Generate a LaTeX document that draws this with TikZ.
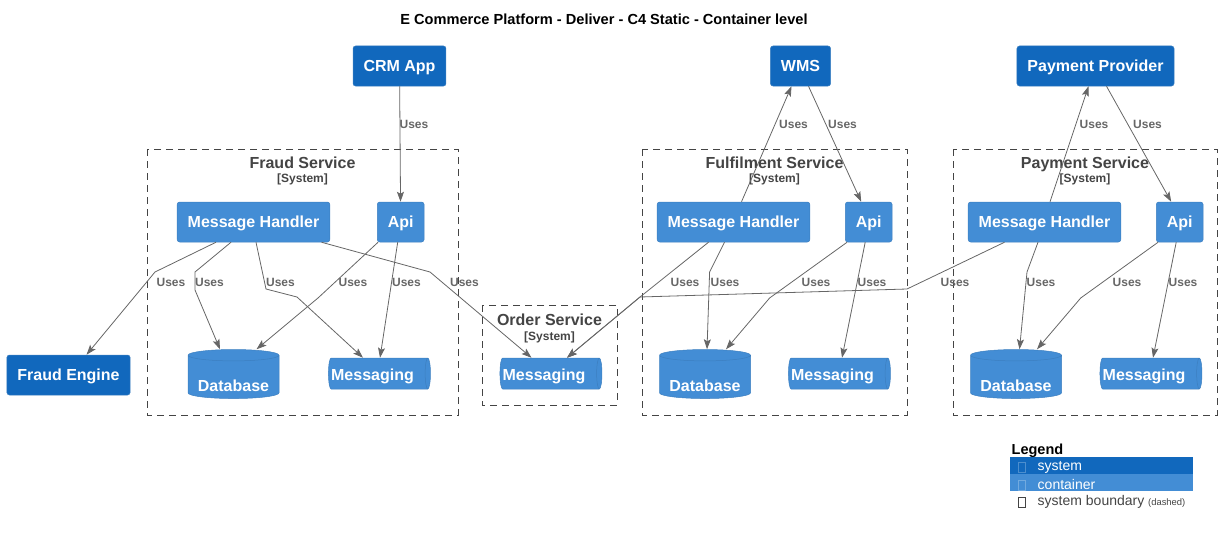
\documentclass[tikz,border=0pt]{standalone}
\usepackage{fontspec}
\setmainfont{Liberation Sans}
\usetikzlibrary{shapes.geometric,arrows.meta,positioning}
\definecolor{sysblue}{HTML}{1168BD}
\definecolor{ctrblue}{HTML}{438DD5}
\definecolor{nodeedge}{HTML}{3C7FC0}
\definecolor{edgegray}{HTML}{666666}
\definecolor{bndgray}{HTML}{444444}
\tikzset{
  sys/.style={rectangle, rounded corners=2.5pt, fill=sysblue, draw=nodeedge, line width=0.5pt,
    text=white, font=\fontsize{16}{19}\selectfont\bfseries, minimum height=40pt,
    inner xsep=10.5pt, text height=11.5pt, text depth=0pt},
  ctr/.style={sys, fill=ctrblue},
  db/.style={cylinder, shape border rotate=90, aspect=0.16, fill=ctrblue, draw=nodeedge,
    line width=0.5pt, text=white, font=\fontsize{16}{19}\selectfont\bfseries,
    minimum width=91pt, minimum height=49pt, inner sep=0pt, text height=29pt, text depth=0pt},
  queue/.style={db, shape border rotate=0, aspect=0.38, minimum width=31pt, minimum height=102pt,
    text height=14pt},
  bnd/.style={draw=bndgray, line width=0.8pt, dash pattern=on 7pt off 5pt},
  bndtitle/.style={text=bndgray, font=\fontsize{16}{19}\selectfont\bfseries, anchor=base, inner sep=0pt},
  bndtag/.style={text=bndgray, font=\fontsize{12}{14}\selectfont\bfseries, anchor=base, inner sep=0pt},
  uses/.style={draw=edgegray, line width=0.8pt, -{Stealth[length=10pt,width=7pt,inset=2pt]}},
  lbl/.style={text=edgegray, font=\fontsize{12}{14}\selectfont\bfseries, anchor=base, inner sep=0pt},
  legtext/.style={text=white, font=\fontsize{14}{17}\selectfont, anchor=base west, inner sep=0pt},
}
\begin{document}
\begin{tikzpicture}[x=1pt,y=-1pt]
\useasboundingbox (0,0) rectangle (1222,535);
\node[anchor=base, font=\fontsize{14.6}{17}\selectfont\bfseries] (title) at (604,25)
  {E Commerce Platform - Deliver - C4 Static - Container level};

% systems
\node[sys] (crm) at (399.5,66) {CRM App};
\node[sys] (wms) at (800.5,66) {WMS};
\node[sys] (pay) at (1095.5,66) {Payment Provider};
\node[sys] (fen) at (68.5,375) {Fraud Engine};

% fraud service
\draw[bnd] (147,149) rectangle (458,415);
\node[bndtitle] (fs) at (302.5,168) {Fraud Service};
\node[bndtag] (fst) at (302.5,182.5) {[System]};
\node[ctr] (fmh) at (253.5,222) {Message Handler};
\node[ctr, right=47pt of fmh] (fapi) {Api};
\node[db] (fdb) at (233.5,377) {Database};
\node[queue] (fmq) at (378,373.5) {Messaging\hspace*{11pt}};

% order service
\draw[bnd] (482,305) rectangle (617,405);
\node[bndtitle] (os) at (549.5,325) {Order Service};
\node[bndtag] (ost) at (549.5,340) {[System]};
\node[queue] (omq) at (549.5,373.5) {Messaging\hspace*{11pt}};

% fulfilment service
\draw[bnd] (642,149) rectangle (907,415);
\node[bndtitle] (ffs) at (774.5,168) {Fulfilment Service};
\node[bndtag] (ffst) at (774.5,182.5) {[System]};
\node[ctr] (ffmh) at (733.5,222) {Message Handler};
\node[ctr, right=35pt of ffmh] (ffapi) {Api};
\node[db] (ffdb) at (705,377) {Database};
\node[queue] (ffmq) at (838,373.5) {Messaging\hspace*{11pt}};

% payment service
\draw[bnd] (953,149) rectangle (1217,415);
\node[bndtitle] (ps) at (1085,168) {Payment Service};
\node[bndtag] (pst) at (1085,182.5) {[System]};
\node[ctr] (pmh) at (1044.5,222) {Message Handler};
\node[ctr, right=35pt of pmh] (papi) {Api};
\node[db] (pdb) at (1016,377) {Database};
\node[queue] (pmq) at (1149.5,373.5) {Messaging\hspace*{11pt}};

% uses
\draw[uses] (crm) -- (fapi) node[lbl] at (414,128.5) {Uses};
\draw[uses] ([xshift=-37.5pt]fmh.south) -- (155,272) -- ([xshift=18pt]fen.north)
  node[lbl] at (171,286) {Uses};
\draw[uses] ([xshift=-22.5pt]fmh.south) -- (195,272) -- (195,290) -- ([xshift=-13.5pt]fdb.north)
  node[lbl] at (209.5,286) {Uses};
\draw[uses] ([xshift=2.5pt]fmh.south) -- (266,289) -- (297,297) -- ([xshift=-15pt]fmq.north)
  node[lbl] at (280.5,286) {Uses};
\draw[uses] ([xshift=68pt]fmh.south) -- (430,272) -- ([xshift=-18pt]omq.north)
  node[lbl] at (464.5,286) {Uses};
\draw[uses] ([xshift=1pt]fapi.south west) -- (318,298) -- ([xshift=23pt]fdb.north)
  node[lbl] at (353,286) {Uses};
\draw[uses] ([xshift=-3pt]fapi.south) -- ([xshift=2pt]fmq.north)
  node[lbl] at (406.5,286) {Uses};

\draw[uses] ([xshift=8pt]ffmh.north) -- ([xshift=-9pt]wms.south)
  node[lbl] at (793.5,128.5) {Uses};
\draw[uses] ([xshift=8pt]wms.south) -- ([xshift=-7.5pt]ffapi.north)
  node[lbl] at (842.5,128.5) {Uses};
\draw[uses] ([xshift=-25pt]ffmh.south) -- (640,297) -- ([xshift=17.5pt]omq.north)
  node[lbl] at (685,286) {Uses};
\draw[uses] ([xshift=-9pt]ffmh.south) -- (709.6,272) -- ([xshift=2pt]ffdb.north)
  node[lbl] at (725,286) {Uses};
\draw[uses] ([xshift=2pt]ffapi.south west) -- (769.6,298) -- ([xshift=21pt]ffdb.north)
  node[lbl] at (816,286) {Uses};
\draw[uses] ([xshift=-3.5pt]ffapi.south) -- ([xshift=4pt]ffmq.north)
  node[lbl] at (872,286) {Uses};

\draw[uses] ([xshift=5.5pt]pmh.north) -- ([xshift=-7pt]pay.south)
  node[lbl] at (1094,128.5) {Uses};
\draw[uses] ([xshift=11pt]pay.south) -- ([xshift=-8.5pt]papi.north)
  node[lbl] at (1147.5,128.5) {Uses};
\draw[uses] ([xshift=-40pt]pmh.south) -- (907,289) -- (640,297) -- ([xshift=17.5pt]omq.north)
  node[lbl] at (955,286) {Uses};
\draw[uses] ([xshift=-6.5pt]pmh.south) -- (1027,272) -- ([xshift=3.5pt]pdb.north)
  node[lbl] at (1041,286) {Uses};
\draw[uses] ([xshift=2pt]papi.south west) -- (1080.7,298) -- ([xshift=21pt]pdb.north)
  node[lbl] at (1127,286) {Uses};
\draw[uses] ([xshift=-3.5pt]papi.south) -- ([xshift=3.5pt]pmq.north)
  node[lbl] at (1183,286) {Uses};

% legend
\node[anchor=base west, inner sep=0pt, font=\fontsize{14.5}{17}\selectfont\bfseries] (leg) at (1011.5,454) {Legend};
\fill[sysblue] (1010,457) rectangle (1193,474);
\fill[ctrblue] (1010,474) rectangle (1193,491);
\draw[white!25!sysblue, line width=0.5pt] (1018.5,462) rectangle (1025,472);
\draw[white!25!ctrblue, line width=0.5pt] (1018.5,480) rectangle (1025,490);
\draw[bndgray, line width=0.5pt] (1018.5,497.5) rectangle (1025,507.5);
\node[legtext] (lsys) at (1037.5,470) {system};
\node[legtext] (lctr) at (1037.5,489) {container};
\node[legtext, text=bndgray] (lbnd) at (1037.5,505) {system boundary \fontsize{9.4}{11}\selectfont(dashed)};
\end{tikzpicture}
\end{document}
